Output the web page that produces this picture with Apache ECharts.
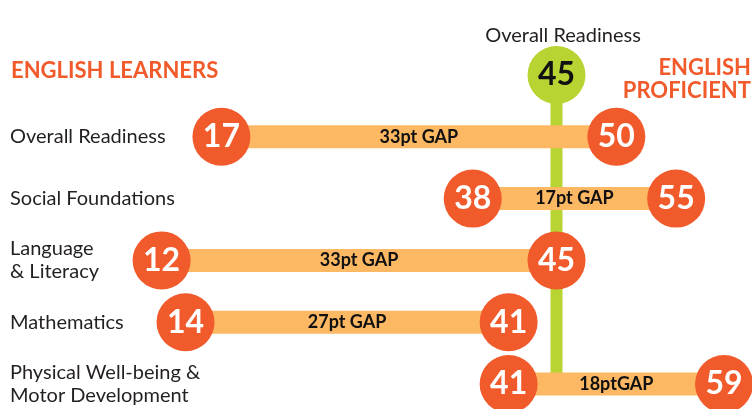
<!DOCTYPE html>
<html>
<head>
<meta charset="utf-8">
<script src="https://cdn.jsdelivr.net/npm/echarts@6/dist/echarts.min.js"></script>
<style>
  html, body { margin: 0; padding: 0; background: #fff; }
  #chart { width: 752px; height: 409px; }
</style>
</head>
<body>
<div id="chart"></div>
<script>
// row labels (first slot is the "Overall Readiness" marker row at the top)
const categories = ["", "Overall Readiness", "Social Foundations", "Language\n& Literacy", "Mathematics", "Physical Well-being &\nMotor Development"];
const learners = [17, 38, 12, 14, 41];
const proficient = [50, 55, 45, 41, 59];
const gapLabels = ["33pt GAP", "17pt GAP", "33pt GAP", "27pt GAP", "18ptGAP"];
const overallReadiness = 45;

const ORANGE = "#f15a2b";
const LIGHT = "#fdb863";
const GREEN = "#b8d432";
const FONT = "Lato";

let chart = echarts.init(document.getElementById("chart"));

let option = {
  animation: false,
  textStyle: { fontFamily: FONT },
  title: [
    {
      text: "ENGLISH LEARNERS",
      left: 6, top: 55,
      textStyle: { color: ORANGE, fontSize: 22, fontWeight: "bold", fontFamily: FONT }
    },
    {
      text: "Overall Readiness",
      left: 558, top: 21,
      textAlign: "center",
      textStyle: { color: "#231f20", fontSize: 20, fontWeight: "normal", fontFamily: FONT }
    }
  ],
  graphic: [
    {
      type: "text",
      x: 751, y: 56,
      style: {
        text: "ENGLISH\nPROFICIENT",
        align: "right",
        verticalAlign: "top",
        fill: ORANGE,
        font: "bold 22px Lato",
        lineHeight: 23
      }
    }
  ],
  grid: { left: 18, right: 16, top: 75, bottom: 23 },
  xAxis: {
    type: "value", min: 0, max: 60, show: false
  },
  yAxis: {
    type: "category",
    inverse: true,
    boundaryGap: false,
    data: categories,
    axisLine: { show: false },
    axisTick: { show: false },
    splitLine: { show: false },
    axisLabel: {
      interval: 0,
      align: "left",
      margin: 8,
      fontSize: 20,
      lineHeight: 23,
      color: "#231f20",
      fontFamily: FONT,
      padding: [4, 0, 0, 0]
    }
  },
  series: [
    {
      // overall readiness stem
      type: "line",
      z: 1,
      clip: false,
      symbol: "none",
      lineStyle: { color: GREEN, width: 12 },
      data: [[overallReadiness, 0], [overallReadiness, 5]]
    },
    {
      type: "bar",
      stack: "gap",
      z: 2,
      clip: false,
      barWidth: 23,
      itemStyle: { color: "transparent" },
      data: ["-"].concat(learners)
    },
    {
      type: "bar",
      stack: "gap",
      z: 2,
      clip: false,
      barWidth: 23,
      itemStyle: { color: LIGHT },
      label: {
        show: true,
        position: "inside",
        color: "#111",
        fontSize: 18,
        fontWeight: "bold",
        fontFamily: FONT,
        formatter: (p) => gapLabels[p.dataIndex - 1]
      },
      data: ["-"].concat(proficient.map((v, i) => v - learners[i]))
    },
    {
      type: "scatter",
      z: 3,
      clip: false,
      symbolSize: 58,
      itemStyle: { color: ORANGE, opacity: 1 },
      label: {
        show: true, position: "inside",
        color: "#fff", fontSize: 32, fontWeight: "bold", fontFamily: FONT,
        formatter: (p) => p.value[0]
      },
      data: learners.map((v, i) => [v, i + 1])
    },
    {
      type: "scatter",
      z: 3,
      clip: false,
      symbolSize: 58,
      itemStyle: { color: ORANGE, opacity: 1 },
      label: {
        show: true, position: "inside",
        color: "#fff", fontSize: 32, fontWeight: "bold", fontFamily: FONT,
        formatter: (p) => p.value[0]
      },
      data: proficient.map((v, i) => [v, i + 1])
    },
    {
      type: "scatter",
      z: 3,
      clip: false,
      symbolSize: 58,
      itemStyle: { color: GREEN, opacity: 1 },
      label: {
        show: true, position: "inside",
        color: "#111", fontSize: 32, fontWeight: "bold", fontFamily: FONT,
        formatter: (p) => p.value[0]
      },
      data: [[overallReadiness, 0]]
    }
  ]
};
chart.setOption(option);
</script>
</body>
</html>
